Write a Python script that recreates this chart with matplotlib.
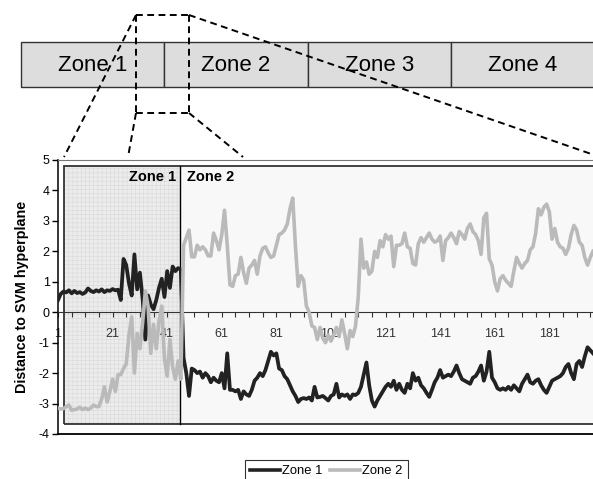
import matplotlib
matplotlib.use("Agg")
import matplotlib.pyplot as plt
from matplotlib.patches import Rectangle

plt.rcParams['font.family'] = ['Liberation Sans', 'DejaVu Sans']
plt.rcParams['hatch.linewidth'] = 0.4

# distance to the SVM hyperplane, one value per sample (1..197)
zone1 = [0.40, 0.60, 0.68, 0.65, 0.72, 0.62, 0.70, 0.63, 0.66, 0.60,
         0.65, 0.78, 0.70, 0.66, 0.72, 0.68, 0.75, 0.66, 0.72, 0.70,
         0.76, 0.72, 0.74, 0.40, 1.75, 1.55, 0.95, 0.55, 1.90, 0.75,
         1.30, 0.45, -0.90, 0.55, 0.25, 0.10, 0.40, 0.80, 1.10, 0.50,
         1.35, 0.80, 1.50, 1.35, 1.45, 1.40, -1.50, -2.00, -2.75, -1.85,
         -1.90, -2.00, -1.95, -2.15, -2.00, -2.10, -2.30, -2.15, -2.25, -2.30,
         -2.00, -2.50, -1.35, -2.55, -2.55, -2.60, -2.55, -2.85, -2.60, -2.70,
         -2.75, -2.55, -2.25, -2.15, -2.00, -2.10, -1.90, -1.60, -1.30, -1.42,
         -1.35, -1.85, -1.90, -2.10, -2.20, -2.40, -2.60, -2.75, -2.95, -2.85,
         -2.82, -2.85, -2.80, -2.90, -2.45, -2.80, -2.78, -2.75, -2.82, -2.90,
         -2.75, -2.70, -2.35, -2.80, -2.70, -2.75, -2.70, -2.85, -2.70, -2.72,
         -2.65, -2.45, -2.05, -1.65, -2.40, -2.90, -3.10, -2.90, -2.75, -2.60,
         -2.45, -2.35, -2.45, -2.25, -2.55, -2.35, -2.55, -2.65, -2.35, -2.50,
         -2.00, -2.25, -2.15, -2.40, -2.50, -2.65, -2.78, -2.55, -2.30, -2.15,
         -1.90, -2.15, -2.10, -2.05, -2.10, -1.95, -1.75, -2.00, -2.20, -2.25,
         -2.30, -2.35, -2.15, -2.10, -1.95, -1.75, -2.25, -1.95, -1.30, -2.15,
         -2.30, -2.50, -2.55, -2.50, -2.55, -2.45, -2.55, -2.40, -2.50, -2.60,
         -2.35, -2.20, -2.05, -2.30, -2.35, -2.25, -2.20, -2.40, -2.55, -2.65,
         -2.45, -2.25, -2.20, -2.15, -2.10, -2.00, -1.80, -1.70, -2.00, -2.20,
         -1.70, -1.60, -1.80, -1.45, -1.15, -1.25, -1.35]

zone2 = [-3.15, -3.18, -3.17, -3.10, -3.05, -3.22, -3.20, -3.18, -3.12, -3.20,
         -3.15, -3.20, -3.15, -3.05, -3.10, -3.10, -2.85, -2.45, -2.95, -2.60,
         -2.20, -2.60, -2.05, -2.05, -1.85, -1.70, -0.75, -0.15, -2.00, -0.70,
         -1.20, -0.35, 0.70, 0.20, -1.35, -0.40, -1.20, -0.30, 0.20, -1.55,
         -2.10, -0.90, -1.80, -2.20, -1.60, -2.20, 2.20, 2.45, 2.70, 1.82,
         1.82, 2.20, 2.05, 2.15, 2.05, 1.85, 1.85, 2.60, 2.35, 2.05,
         2.55, 3.35, 2.20, 0.90, 0.85, 1.20, 1.25, 1.80, 1.30, 0.95,
         1.45, 1.55, 1.70, 1.25, 1.85, 2.10, 2.15, 1.95, 1.80, 1.85,
         2.20, 2.55, 2.60, 2.70, 2.90, 3.40, 3.75, 2.15, 0.85, 1.20,
         1.05, 0.20, 0.00, -0.45, -0.50, -0.90, -0.50, -0.85, -1.00, -0.75,
         -0.95, -0.75, -0.50, -0.80, -0.25, -0.70, -1.20, -0.60, -0.80, -0.45,
         0.50, 2.40, 1.45, 1.65, 1.25, 1.35, 2.00, 1.80, 2.35, 2.15,
         2.55, 2.40, 2.50, 1.50, 2.20, 2.20, 2.25, 2.60, 2.15, 2.10,
         1.60, 1.55, 2.25, 2.45, 2.30, 2.45, 2.60, 2.40, 2.30, 2.35,
         2.50, 1.70, 2.35, 2.45, 2.60, 2.45, 2.25, 2.65, 2.55, 2.40,
         2.75, 2.90, 2.65, 2.55, 2.35, 1.90, 3.10, 3.25, 1.75, 1.55,
         1.00, 0.70, 1.10, 1.20, 1.05, 0.95, 0.85, 1.35, 1.80, 1.60,
         1.45, 1.60, 1.70, 2.05, 2.15, 2.60, 3.40, 3.20, 3.45, 3.55,
         3.30, 2.40, 2.75, 2.30, 2.15, 2.10, 1.90, 2.10, 2.55, 2.85,
         2.70, 2.30, 2.20, 1.80, 1.55, 1.80, 2.00]

samples = list(range(1, len(zone1) + 1))
zone_names = ["Zone 1", "Zone 2", "Zone 3", "Zone 4"]
series_names = ["Zone 1", "Zone 2"]
y_ticks = list(range(-4, 6))
x_labels = list(range(1, 198, 20))

W, H = 593, 479
fig = plt.figure(figsize=(W / 100, H / 100), dpi=100)

# main chart
ax = fig.add_axes([58 / W, 45 / H, 1 - 58 / W, 274 / H])
ax.set_xlim(1, 197)
ax.set_ylim(-4, 5)

# shaded panels behind the curves
split = 45.7
ax.add_patch(Rectangle((3.2, -3.68), 250, 8.48, facecolor='#f8f8f8',
                       edgecolor='none', zorder=0))
ax.add_patch(Rectangle((3.2, -3.68), split - 3.2, 8.48, facecolor='#ececec',
                       hatch='++++', edgecolor='#dadada', lw=0, zorder=0.5))
ax.add_patch(Rectangle((3.2, -3.68), 250, 8.48, facecolor='none',
                       edgecolor='#333333', lw=1.3, zorder=1, clip_on=False))
ax.plot([split, split], [-3.68, 4.8], color='black', lw=1, zorder=1)

l1, = ax.plot(samples, zone1, color='#222222', lw=2.7, solid_joinstyle='round',
              label=series_names[0], zorder=3)
l2, = ax.plot(samples, zone2, color='#bababa', lw=2.6, solid_joinstyle='round',
              label=series_names[1], zorder=4)

ax.text(split - 1.5, 4.45, "Zone 1", fontsize=10.5, fontweight='bold',
        ha='right', va='center', zorder=5)
ax.text(split + 2.5, 4.45, "Zone 2", fontsize=10.5, fontweight='bold',
        ha='left', va='center', zorder=5)

ax.spines['bottom'].set_position(('data', 0))
ax.spines['bottom'].set_color('#333333')
ax.spines['right'].set_visible(False)
ax.spines['top'].set_color('#777777')
ax.spines['left'].set_linewidth(1.1)
ax.axhline(-4, color='black', lw=1.3, clip_on=False, zorder=6)

ax.set_xticks(x_labels)
ax.set_xticks(range(1, 198, 5), minor=True)
ax.set_xticklabels([str(v) for v in x_labels], fontsize=9, color='#333333')
ax.tick_params(axis='x', which='both', direction='out', length=3.5,
               width=0.8, color='#333333', pad=8)
ax.set_yticks(y_ticks)
ax.set_yticklabels([str(v) for v in y_ticks], fontsize=9)
ax.tick_params(axis='y', direction='out', length=4, width=1, pad=2)
ax.set_ylabel("Distance to SVM hyperplane", fontsize=10.3,
              fontweight='bold', labelpad=7)

leg = ax.legend(handles=[l1, l2], ncol=2, loc='upper left',
                bbox_to_anchor=(245 / W, 1 - 460 / H),
                bbox_transform=fig.transFigure, fontsize=9.4, frameon=True,
                fancybox=False, handlelength=2.3, handletextpad=0.15,
                columnspacing=0.6, borderpad=0.4, borderaxespad=0)
leg.get_frame().set_edgecolor('black')
leg.get_frame().set_linewidth(0.8)
leg.set_zorder(10)
for h in leg.get_lines():
    h.set_linewidth(2.6)

# zoom schematic above the chart, in pixel coordinates
top = fig.add_axes([0, 0, 1, 1], zorder=5)
top.set_xlim(0, W)
top.set_ylim(H, 0)
top.axis('off')
top.patch.set_alpha(0)

cell_w = 143.3
for k, name in enumerate(zone_names):
    x0 = 21 + k * cell_w
    top.add_patch(Rectangle((x0, 42), cell_w, 45, facecolor='#dddddd',
                            edgecolor='#333333', lw=1, zorder=1))
    top.text(x0 + cell_w / 2, 65, name, fontsize=16, ha='center',
             va='center', zorder=2)

dash = dict(color='black', lw=1.4, dashes=(3.5, 2.3), zorder=3)
top.plot([136, 189], [15, 15], **dash)
top.plot([136, 136], [15, 113], **dash)
top.plot([189, 189], [15, 113], **dash)
top.plot([136, 189], [113, 113], **dash)
top.plot([136, 64], [15, 157], **dash)
top.plot([136, 128], [113, 157], **dash)
top.plot([189, 243], [113, 157], **dash)
top.plot([189, 600], [15, 157], **dash)

fig.savefig("out.png", dpi=100)
